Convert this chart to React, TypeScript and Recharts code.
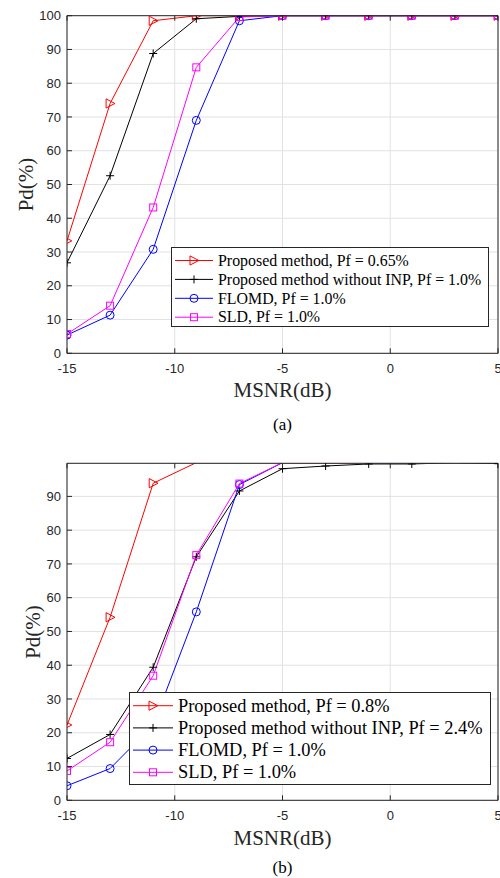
import React from 'react'
import { LineChart, Line, XAxis, YAxis, CartesianGrid } from 'recharts'

// MSNR values (dB) shared by both panels
const snr = [-15, -13, -11, -9, -7, -5, -3, -1, 1, 3, 5]

// panel (a)
const proposedA = [33.3, 74, 98.5, 100, 100, 100, 100, 100, 100, 100, 100]
const noInpA = [26.8, 52.6, 88.8, 99.1, 99.8, 100, 100, 100, 100, 100, 100]
const flomdA = [5.4, 11.3, 30.8, 69, 98.5, 100, 100, 100, 100, 100, 100]
const sldA = [5.7, 14.1, 43.2, 84.7, 99.6, 100, 100, 100, 100, 100, 100]

// panel (b)
const proposedB = [22.3, 54.2, 93.9, 100, 100, 100, 100, 100, 100, 100, 100]
const noInpB = [12.4, 19.5, 39.4, 72.1, 91.6, 98.2, 99.0, 99.6, 99.6, 100, 99.7]
const flomdB = [4.3, 9.4, 22.3, 55.8, 93.5, 100, 100, 100, 100, 100, 100]
const sldB = [8.7, 17.2, 36.9, 72.6, 93.8, 100, 100, 100, 100, 100, 100]

const xTicks = [-15, -10, -5, 0, 5]
const yTicksA = [0, 10, 20, 30, 40, 50, 60, 70, 80, 90, 100]
const yTicksB = [0, 10, 20, 30, 40, 50, 60, 70, 80, 90]

const legendA = ['Proposed method, Pf = 0.65%', 'Proposed method without INP, Pf = 1.0%', 'FLOMD, Pf = 1.0%', 'SLD, Pf = 1.0%']
const legendB = ['Proposed method, Pf = 0.8%', 'Proposed method without INP, Pf = 2.4%', 'FLOMD, Pf = 1.0%', 'SLD, Pf = 1.0%']

const series = [
  { key: 'p', color: '#ff0000', marker: 'tri' },
  { key: 'n', color: '#000000', marker: 'plus' },
  { key: 'f', color: '#0000ff', marker: 'circle' },
  { key: 's', color: '#ff00ff', marker: 'square' },
]

const AXIS = '#262626'
const SANS = '"Liberation Sans", Arial, sans-serif'
const SERIF = '"Liberation Serif", "Times New Roman", serif'

function Marker({ kind, cx, cy, color }: { kind: string; cx: number; cy: number; color: string }) {
  if (kind === 'tri') {
    return <polygon points={`${cx - 4},${cy - 4.6} ${cx - 4},${cy + 4.6} ${cx + 4.8},${cy}`} fill="none" stroke={color} strokeWidth={1} />
  }
  if (kind === 'plus') {
    return (
      <g stroke={color} strokeWidth={1}>
        <line x1={cx - 4} x2={cx + 4} y1={cy} y2={cy} />
        <line x1={cx} x2={cx} y1={cy - 4} y2={cy + 4} />
      </g>
    )
  }
  if (kind === 'circle') {
    return <circle cx={cx} cy={cy} r={4} fill="none" stroke={color} strokeWidth={1} />
  }
  return <rect x={cx - 3.5} y={cy - 3.5} width={7} height={7} fill="none" stroke={color} strokeWidth={1} />
}

// markers whose centre lies above the axes limit are clipped, as in the original figure
const makeDot = (kind: string, color: string, yMax: number) => (p: any) => {
  if (p.cx == null || p.cy == null || p.value > yMax) return <g key={`d-${p.index}`} />
  return (
    <g key={`d-${p.index}`}>
      <Marker kind={kind} cx={p.cx} cy={p.cy} color={color} />
    </g>
  )
}

// ticks point inward (box style); labels sit outside
const BottomTick = (p: any) => (
  <g>
    <line x1={p.x} x2={p.x} y1={p.y} y2={p.y - 5} stroke={AXIS} />
    <text x={p.x} y={p.y + 19.5} textAnchor="middle" fill={AXIS} fontSize={13} fontFamily={SANS}>
      {p.payload.value}
    </text>
  </g>
)
const TopTick = (p: any) => <line x1={p.x} x2={p.x} y1={p.y} y2={p.y + 5} stroke={AXIS} />
const LeftTick = (p: any) => (
  <g>
    <line x1={p.x} x2={p.x + 5} y1={p.y} y2={p.y} stroke={AXIS} />
    <text x={p.x - 6} y={p.y + 4.6} textAnchor="end" fill={AXIS} fontSize={13} fontFamily={SANS}>
      {p.payload.value}
    </text>
  </g>
)
const RightTick = (p: any) => <line x1={p.x} x2={p.x - 5} y1={p.y} y2={p.y} stroke={AXIS} />

function Panel({ rows, yMax, yTicks, top, margin }: any) {
  return (
    <div style={{ position: 'absolute', left: 0, top, width: 500, height: 400 }}>
      <LineChart width={500} height={400} data={rows} margin={margin}>
        <CartesianGrid stroke="#e2e2e2" strokeWidth={1} />
        <XAxis dataKey="x" type="number" domain={[-15, 5]} ticks={xTicks} interval={0} height={1}
          tickSize={0} tickMargin={0} tickLine={false} axisLine={{ stroke: AXIS }} tick={BottomTick} allowDataOverflow />
        <XAxis xAxisId="top" orientation="top" dataKey="x" type="number" domain={[-15, 5]} ticks={xTicks} interval={0}
          height={1} tickSize={0} tickMargin={0} tickLine={false} axisLine={{ stroke: AXIS }} tick={TopTick} />
        <YAxis type="number" domain={[0, yMax]} ticks={yTicks} interval={0} width={67} tickSize={0} tickMargin={0}
          tickLine={false} axisLine={{ stroke: AXIS }} tick={LeftTick} allowDataOverflow />
        <YAxis yAxisId="right" orientation="right" type="number" domain={[0, yMax]} ticks={yTicks} interval={0} width={1}
          tickSize={0} tickMargin={0} tickLine={false} axisLine={{ stroke: AXIS }} tick={RightTick} />
        {series.map((s) => (
          <Line key={s.key} dataKey={s.key} stroke={s.color} strokeWidth={1} isAnimationActive={false}
            dot={makeDot(s.marker, s.color, yMax)} activeDot={false} />
        ))}
      </LineChart>
    </div>
  )
}

function LegendBox({ labels, left, top, width, height, row0, rowH, fontSize, lineEnd }: any) {
  return (
    <svg style={{ position: 'absolute', left, top }} width={width + 2} height={height + 2}>
      <rect x={0.5} y={0.5} width={width} height={height} fill="#fff" stroke="#262626" strokeWidth={1} />
      {labels.map((label: string, i: number) => {
        const cy = row0 + i * rowH
        const s = series[i]
        return (
          <g key={label}>
            <line x1={4} x2={lineEnd} y1={cy} y2={cy} stroke={s.color} strokeWidth={1} />
            <Marker kind={s.marker} cx={(4 + lineEnd) / 2} cy={cy} color={s.color} />
            <text x={lineEnd + 5} y={cy + fontSize * 0.33} fontSize={fontSize} fontFamily={SERIF} fill="#000">
              {label}
            </text>
          </g>
        )
      })}
    </svg>
  )
}

const build = (a: number[], b: number[], c: number[], d: number[]) =>
  snr.map((x, i) => ({ x, p: a[i], n: b[i], f: c[i], s: d[i] }))

export default function App() {
  const rowsA = build(proposedA, noInpA, flomdA, sldA)
  const rowsB = build(proposedB, noInpB, flomdB, sldB)
  return (
    <div style={{ position: 'absolute', left: 0, top: 0, width: 500, height: 878, background: '#fff', overflow: 'hidden' }}>
      <Panel rows={rowsA} yMax={100} yTicks={yTicksA} top={0} margin={{ top: 14.7, right: 1, bottom: 45.7, left: 0 }} />
      <Panel rows={rowsB} yMax={99.8} yTicks={yTicksB} top={440} margin={{ top: 22.3, right: 1, bottom: 38.7, left: 0 }} />
      <LegendBox labels={legendA} left={170.5} top={246.5} width={317} height={79} row0={13.5} rowH={18.9} fontSize={15.9} lineEnd={42} />
      <LegendBox labels={legendB} left={129} top={692} width={361} height={92} row0={13.7} rowH={22.2} fontSize={18.4} lineEnd={44} />
      <svg style={{ position: 'absolute', left: 0, top: 0, pointerEvents: 'none' }} width={500} height={878}>
        <text x={282.5} y={397} textAnchor="middle" fontSize={21} fontFamily={SERIF} fill={AXIS}>MSNR(dB)</text>
        <text x={282.5} y={430} textAnchor="middle" fontSize={17} fontFamily={SERIF} fill="#000">(a)</text>
        <text x={0} y={0} transform="translate(32.5,184.5) rotate(-90)" textAnchor="middle" fontSize={21} fontFamily={SERIF} fill={AXIS}>Pd(%)</text>
        <text x={282.5} y={845} textAnchor="middle" fontSize={21} fontFamily={SERIF} fill={AXIS}>MSNR(dB)</text>
        <text x={282.5} y={873} textAnchor="middle" fontSize={17} fontFamily={SERIF} fill="#000">(b)</text>
        <text x={0} y={0} transform="translate(39.5,632) rotate(-90)" textAnchor="middle" fontSize={21} fontFamily={SERIF} fill={AXIS}>Pd(%)</text>
      </svg>
    </div>
  )
}
